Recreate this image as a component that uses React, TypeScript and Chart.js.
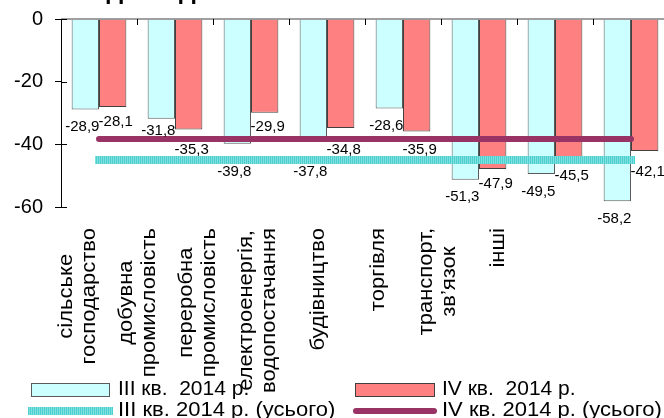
import { useEffect, useRef } from "react";
import { Chart, registerables } from "chart.js";

Chart.register(...registerables);

const FONT = "'Liberation Sans', Arial, sans-serif";

const categories: string[][] = [
  ["сільське", "господарство"],
  ["добувна", "промисловість"],
  ["переробна", "промисловість"],
  ["електроенергія,", "водопостачання"],
  ["будівництво"],
  ["торгівля"],
  ["транспорт,", "зв’язок"],
  ["інші"],
];
const q3Values = [-28.9, -31.8, -39.8, -37.8, -28.6, -51.3, -49.5, -58.2];
const q4Values = [-28.1, -35.3, -29.9, -34.8, -35.9, -47.9, -45.5, -42.1];
const q3Total = [-45.0, -45.0, -45.0, -45.0, -45.0, -45.0, -45.0, -45.0];
const q4Total = [-38.3, -38.3, -38.3, -38.3, -38.3, -38.3, -38.3, -38.3];
const yMin = -60;
const yMax = 0;
const yStep = 20;
const seriesNames = [
  "III кв.  2014 р.",
  "IV кв.  2014 р.",
  "III кв. 2014 р. (усього)",
  "IV кв. 2014 р. (усього)",
];
const titleText = "відповіді";

const COLORS = {
  q3Fill: "#ccffff",
  q3Border: "#5a5a5a",
  q4Fill: "#ff8080",
  q4Border: "#404040",
  q3LineA: "#4ccfcf",
  q3LineB: "#80e0e0",
  q4Line: "#993366",
  zero: "#808080",
};

const Q3_LINE_WIDTH = 8;
const Q4_LINE_WIDTH = 6;

function makeStripePattern(): CanvasPattern | string {
  const c = document.createElement("canvas");
  c.width = 2;
  c.height = 2;
  const g = c.getContext("2d");
  if (!g) return COLORS.q3LineA;
  g.fillStyle = COLORS.q3LineA;
  g.fillRect(0, 0, 1, 2);
  g.fillStyle = COLORS.q3LineB;
  g.fillRect(1, 0, 1, 2);
  const p = g.createPattern(c, "repeat");
  return p || COLORS.q3LineA;
}

const fmt = (v: number) => v.toFixed(1).replace(".", ",");

const LABEL_SPREAD = 0.79;
const LABEL_SHIFT = -13;
const LABEL_TOP_GAP = 21;
const LABEL_LINE_GAP = 23;
// per-series data-label nudges [dx, dy]
const VALUE_LABEL_NUDGE = [
  [-3, 10],
  [3, 7],
];
const VALUE_LABEL_H = 12;

function stretchedText(ctx: CanvasRenderingContext2D, t: string, x: number, y: number, sx: number) {
  ctx.save();
  ctx.translate(x, y);
  ctx.scale(sx, 1);
  ctx.fillText(t, 0, 0);
  ctx.restore();
}

type Box = { x1: number; x2: number; y1: number; y2: number };

export default function App() {
  const canvasRef = useRef<HTMLCanvasElement | null>(null);

  useEffect(() => {
    const canvas = canvasRef.current;
    if (!canvas) return;
    const stripe = makeStripePattern();

    const overlay = {
      id: "overlay",
      afterDatasetsDraw(chart: any) {
        const { ctx, chartArea, scales } = chart;
        const { left, right, bottom } = chartArea;
        const x = scales.x;
        const y = scales.y;
        ctx.save();
        // zero line
        const y0 = y.getPixelForValue(0);
        ctx.strokeStyle = COLORS.zero;
        ctx.lineWidth = 1.5;
        ctx.beginPath();
        ctx.moveTo(left, y0);
        ctx.lineTo(right, y0);
        ctx.stroke();
        // x tick marks at category boundaries (downwards)
        ctx.strokeStyle = "#000";
        ctx.lineWidth = 1;
        ctx.beginPath();
        for (let i = 0; i <= categories.length; i++) {
          const bx = Math.round(x.getPixelForValue(i - 0.5)) + 0.5;
          ctx.moveTo(bx, y0);
          ctx.lineTo(bx, y0 + 6);
        }
        // inner y tick marks
        for (let v = yMax; v >= yMin; v -= yStep) {
          const py = Math.round(y.getPixelForValue(v)) + 0.5;
          ctx.moveTo(left, py);
          ctx.lineTo(left + 6, py);
        }
        ctx.stroke();

        // data labels (kept off the total lines and off each other)
        ctx.fillStyle = "#000";
        ctx.font = `15px ${FONT}`;
        ctx.textAlign = "center";
        ctx.textBaseline = "top";
        const placed: Box[] = [];
        const conflicts = (b: Box) =>
          placed.some((p) => {
            const xHard = b.x1 < p.x2 - 3 && b.x2 > p.x1 + 3;
            const xSoft = b.x1 < p.x2 + 2 && b.x2 > p.x1 - 2;
            const yHit = b.y1 < p.y2 && b.y2 > p.y1;
            return (xHard && yHit) || (xSoft && Math.abs(b.y1 - p.y1) < 4);
          });
        const series = [q3Values, q4Values];
        [1, 0].forEach((d) => {
          const vals = series[d];
          const meta = chart.getDatasetMeta(d);
          const [dx, dy] = VALUE_LABEL_NUDGE[d];
          vals.forEach((v, i) => {
            const el = meta.data[i];
            if (!el) return;
            const text = fmt(v);
            const w = ctx.measureText(text).width;
            const cx = el.x + dx;
            const base = el.y + dy;
            const bands = [
              [y.getPixelForValue(q4Total[i]), Q4_LINE_WIDTH],
              [y.getPixelForValue(q3Total[i]), Q3_LINE_WIDTH],
            ];
            const hitsBand = (ty: number) =>
              bands.some(([ly, lw]) => ty + 1 < ly + lw / 2 && ty + VALUE_LABEL_H > ly - lw / 2);
            const cands: number[] = [base];
            bands.forEach(([ly, lw]) => {
              cands.push(ly + lw / 2);
              cands.push(ly - lw / 2 - VALUE_LABEL_H - 1);
            });
            const valid = cands
              .filter((t) => t >= el.y && !hitsBand(t))
              .sort((a, b) => Math.abs(a - base) - Math.abs(b - base));
            const boxOf = (t: number): Box => ({ x1: cx - w / 2, x2: cx + w / 2, y1: t, y2: t + VALUE_LABEL_H });
            let ty = valid.find((t) => !conflicts(boxOf(t)));
            if (ty === undefined) ty = valid.length ? valid[0] : base;
            placed.push(boxOf(ty));
            ctx.fillText(text, cx, ty);
          });
        });

        // category labels (rotated, lines centred)
        ctx.font = `22px ${FONT}`;
        ctx.textAlign = "center";
        ctx.textBaseline = "middle";
        categories.forEach((lines, i) => {
          const px = x.getPixelForValue(i);
          const cx = left + (px - left) * LABEL_SPREAD + LABEL_SHIFT;
          const L = Math.max(...lines.map((t) => ctx.measureText(t).width));
          const cy = bottom + LABEL_TOP_GAP + L / 2;
          lines.forEach((t, j) => {
            const lx = cx + (j - (lines.length - 1) / 2) * LABEL_LINE_GAP;
            ctx.save();
            ctx.translate(lx, cy);
            ctx.rotate(-Math.PI / 2);
            ctx.scale(1, 0.92);
            ctx.fillText(t, 0, 0);
            ctx.restore();
          });
        });

        // legend
        ctx.textAlign = "left";
        ctx.textBaseline = "alphabetic";
        ctx.font = `20px ${FONT}`;
        ctx.fillStyle = COLORS.q3Fill;
        ctx.fillRect(31, 383, 79, 14);
        ctx.strokeStyle = COLORS.q3Border;
        ctx.lineWidth = 1;
        ctx.strokeRect(31.5, 383.5, 78, 13);
        ctx.fillStyle = COLORS.q4Fill;
        ctx.fillRect(355, 383, 80, 14);
        ctx.strokeStyle = COLORS.q4Border;
        ctx.strokeRect(355.5, 383.5, 79, 13);
        ctx.fillStyle = "#000";
        stretchedText(ctx, seriesNames[0], 118, 395, 1.05);
        stretchedText(ctx, seriesNames[1], 442, 395, 1.05);
        ctx.strokeStyle = stripe as any;
        ctx.lineWidth = Q3_LINE_WIDTH;
        ctx.lineCap = "butt";
        ctx.beginPath();
        ctx.moveTo(28, 411);
        ctx.lineTo(113, 411);
        ctx.stroke();
        ctx.strokeStyle = COLORS.q4Line;
        ctx.lineWidth = Q4_LINE_WIDTH;
        ctx.lineCap = "round";
        ctx.beginPath();
        ctx.moveTo(356, 411);
        ctx.lineTo(434, 411);
        ctx.stroke();
        ctx.fillStyle = "#000";
        stretchedText(ctx, seriesNames[2], 118, 416, 1.1);
        stretchedText(ctx, seriesNames[3], 442, 416, 1.1);

        // partially visible title
        ctx.font = `bold 22px ${FONT}`;
        stretchedText(ctx, titleText, 83, -1, 1.2);
        ctx.restore();
      },
    };

    const chart = new Chart(canvas, {
      type: "bar",
      data: {
        labels: categories,
        datasets: [
          {
            type: "bar",
            label: seriesNames[0],
            data: q3Values,
            backgroundColor: COLORS.q3Fill,
            borderColor: COLORS.q3Border,
            borderWidth: 1,
            order: 2,
          },
          {
            type: "bar",
            label: seriesNames[1],
            data: q4Values,
            backgroundColor: COLORS.q4Fill,
            borderColor: COLORS.q4Border,
            borderWidth: 1,
            order: 2,
          },
          {
            type: "line",
            label: seriesNames[2],
            data: q3Total,
            borderColor: stripe as any,
            borderWidth: Q3_LINE_WIDTH,
            borderCapStyle: "square",
            pointRadius: 0,
            fill: false,
            order: 1,
          },
          {
            type: "line",
            label: seriesNames[3],
            data: q4Total,
            borderColor: COLORS.q4Line,
            borderWidth: Q4_LINE_WIDTH,
            borderCapStyle: "round",
            pointRadius: 0,
            fill: false,
            order: 1,
          },
        ] as any,
      },
      options: {
        animation: false,
        responsive: true,
        maintainAspectRatio: false,
        datasets: {
          bar: { categoryPercentage: 0.72, barPercentage: 1.0 },
        },
        layout: { padding: { top: 19, bottom: 211, left: 0, right: 3 } },
        plugins: {
          legend: { display: false },
          tooltip: { enabled: false },
          title: { display: false },
        },
        scales: {
          x: {
            display: false,
            offset: true,
          },
          y: {
            min: yMin,
            max: yMax,
            ticks: {
              stepSize: yStep,
              color: "#000",
              font: { size: 20, family: FONT },
              padding: 12,
              callback: (v: any) => String(v),
            },
            grid: {
              drawOnChartArea: false,
              drawTicks: true,
              tickLength: 6,
              color: "#000",
            },
            border: { display: true, color: "#000", width: 1 },
            afterFit: (s: any) => {
              s.width = 61;
              s.paddingTop = 0;
              s.paddingBottom = 0;
            },
          },
        },
      },
      plugins: [overlay],
    });

    return () => chart.destroy();
  }, []);

  return (
    <div
      style={{
        position: "fixed",
        left: 0,
        top: 0,
        width: 664,
        height: 418,
        overflow: "hidden",
        background: "#fff",
      }}
    >
      <div style={{ position: "relative", width: 672, height: 418 }}>
        <canvas ref={canvasRef} />
      </div>
    </div>
  );
}
